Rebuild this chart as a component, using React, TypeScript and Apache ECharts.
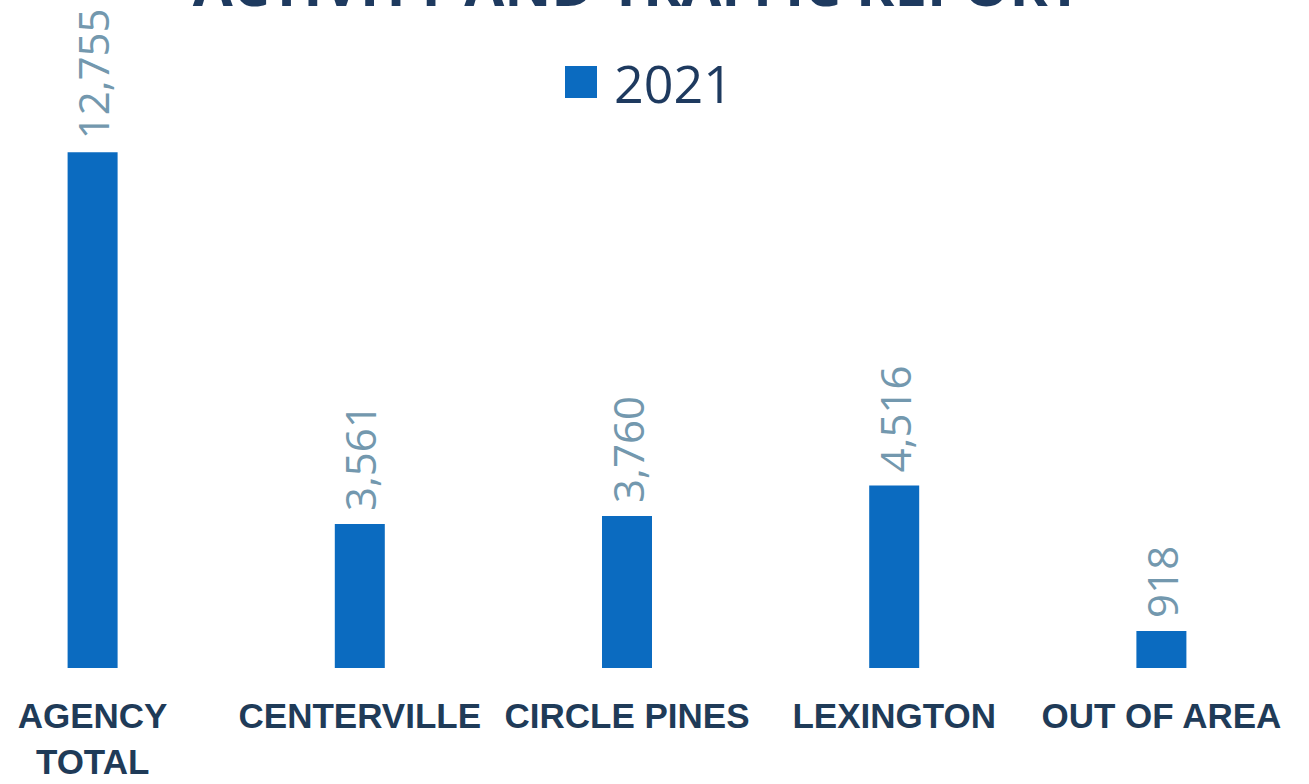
import React, { useEffect, useRef } from "react";
import * as echarts from "echarts";

const categories = ["AGENCY\nTOTAL", "CENTERVILLE", "CIRCLE PINES", "LEXINGTON", "OUT OF AREA"];
const values2021 = [12755, 3561, 3760, 4516, 918];
const seriesName = "2021";
const titleText = "ACTIVITY AND TRAFFIC REPORT";

export default function App() {
  const ref = useRef<HTMLDivElement>(null);
  useEffect(() => {
    const chart = echarts.init(ref.current!, null, { renderer: "svg" });
    chart.setOption({
      animation: false,
      backgroundColor: "#ffffff",
      graphic: [
        {
          type: "text",
          x: 678,
          y: -17,
          style: {
            text: titleText,
            fill: "#1e3a5f",
            font: "bold 58px 'Open Sans'",
            align: "center",
            verticalAlign: "middle",
          },
        },
      ],
      legend: {
        data: [seriesName],
        top: 51,
        left: 601,
        itemWidth: 32,
        itemHeight: 32,
        itemGap: 10,
        icon: "rect",
        textStyle: {
          fontSize: 52,
          color: "#1e3a5f",
          fontFamily: "'Open Sans'",
          padding: [0, 0, 0, 12],
        },
      },
      grid: { left: 0, width: 1336, top: 102, bottom: 90, containLabel: false },
      xAxis: {
        type: "category",
        data: categories,
        axisLine: { show: false },
        axisTick: { show: false },
        axisLabel: {
          interval: 0,
          margin: 24,
          fontSize: 35,
          fontWeight: "bold",
          color: "#1f3b58",
          fontFamily: "'Liberation Sans'",
          lineHeight: 46,
          verticalAlign: "top",
        },
      },
      yAxis: { type: "value", min: 0, max: 14000, show: false, splitLine: { show: false } },
      series: [
        {
          name: seriesName,
          type: "bar",
          data: values2021,
          barWidth: 50,
          itemStyle: { color: "#0b6bc0" },
          label: {
            show: true,
            position: "top",
            rotate: 90,
            align: "left",
            verticalAlign: "middle",
            distance: 13,
            fontSize: 42,
            color: "#7398ae",
            fontFamily: "'Open Sans'",
            formatter: (p: any) => p.value.toLocaleString("en-US"),
          },
        },
      ],
    });
    return () => chart.dispose();
  }, []);
  return (
    <div style={{ position: "fixed", left: 0, top: 0, width: 1309, height: 784, overflow: "hidden", background: "#fff" }}>
      <div ref={ref} style={{ position: "absolute", left: -41, top: 0, width: 1350, height: 784 }} />
    </div>
  );
}
